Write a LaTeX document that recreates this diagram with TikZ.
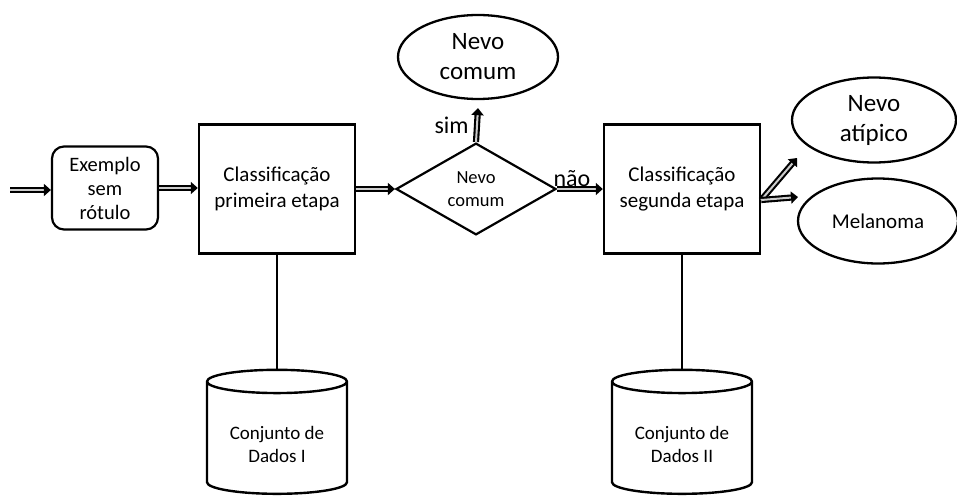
\documentclass[tikz,border=0pt]{standalone}
\usepackage{fontspec}
\setmainfont{Carlito}
\usetikzlibrary{shapes.geometric,arrows.meta}

\tikzset{
  box/.style={draw, line width=2.4pt, minimum width=156pt, minimum height=129pt,
    align=center, font=\fontsize{21}{26}\selectfont},
  startbox/.style={draw, line width=2.2pt, rounded corners=12pt, minimum width=106pt,
    minimum height=83pt, align=center, font=\fontsize{20.5}{24}\selectfont},
  decision/.style={draw, diamond, line width=2.2pt, minimum width=160pt, minimum height=82pt,
    inner sep=0pt, align=center, font=\fontsize{18.5}{23}\selectfont},
  outcome/.style={draw, ellipse, line width=2.3pt, inner sep=0pt, align=center},
  store/.style={draw, cylinder, shape border rotate=90, line width=2.4pt, aspect=0.23,
    minimum width=140pt, minimum height=124pt, align=center,
    font=\fontsize{19}{23}\selectfont},
  flow/.style={draw, line width=2.1pt, double=white!80!black, double distance=2pt,
    -{Triangle[length=7pt, width=12pt]}},
  link/.style={draw, line width=2.4pt},
  tag/.style={font=\fontsize{24}{28}\selectfont},
}

\begin{document}
\begin{tikzpicture}[x=1pt, y=-1pt]
  \useasboundingbox (0,0) rectangle (957,500);

  \coordinate (in) at (10,190);
  \node[startbox] (ex) at (105,188) {Exemplo\\sem\\rótulo};
  \node[box] (c1) at (277,189) {Classificação\\primeira etapa};
  \node[decision] (d) at (476,189) {Nevo\\comum};
  \node[outcome, minimum width=160pt, minimum height=84pt,
        font=\fontsize{25}{30}\selectfont] (nc) at (478,57) {Nevo\\comum};
  \node[box] (c2) at (682,189) {Classificação\\segunda etapa};
  \node[outcome, minimum width=164pt, minimum height=85pt,
        font=\fontsize{25}{30}\selectfont] (na) at (874,120) {Nevo\\atípico};
  \node[outcome, minimum width=160pt, minimum height=85pt,
        font=\fontsize{21}{25}\selectfont] (me) at (878,221) {Melanoma};
  \node[store] (s1) at (277,440) {\\Conjunto de\\Dados I};
  \node[store] (s2) at (682,440) {\\Conjunto de\\Dados II};

  % main flow
  \draw[flow] (in) -- (ex.west |- in);
  \draw[flow] (ex.east) -- (c1.west |- ex.east);
  \draw[flow] (c1.east |- d.west) -- (d.west);
  \draw[flow] (d.north) -- ([yshift=-8pt]nc.south) node[tag, midway, left=4pt] {sim};
  \draw[flow] (d.east) -- (c2.west |- d.east)
    node[tag, midway, above=-2pt, xshift=-8pt] {não};

  % split towards the two outcomes
  \coordinate (split) at ([yshift=-11pt]c2.east);
  \coordinate (toA) at (797,158);
  \coordinate (toM) at (798,197);
  \draw[flow] (split) -- (toA);
  \draw[flow] (split) -- (toM);

  % data sets
  \draw[link] (c1.south) -- (s1.top);
  \draw[link] (c2.south) -- (s2.top);
\end{tikzpicture}
\end{document}
